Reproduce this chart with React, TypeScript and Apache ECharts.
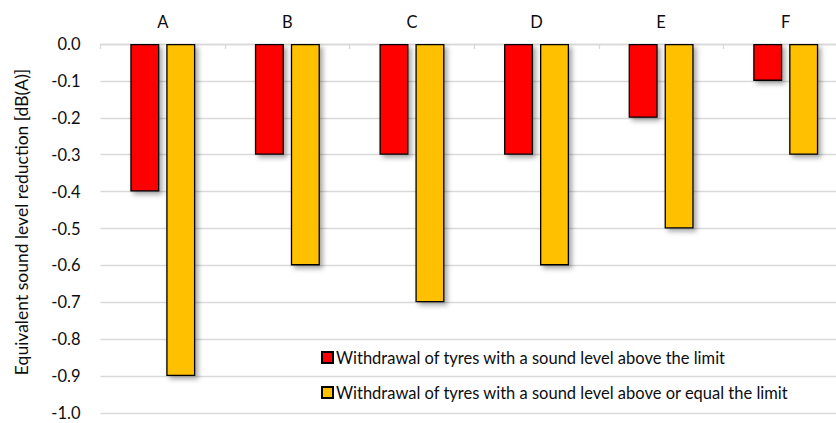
import React, { useEffect, useRef } from "react";
import * as echarts from "echarts";

const categories = ["A", "B", "C", "D", "E", "F"];
const seriesNames = [
  "Withdrawal of tyres with a sound level above the limit",
  "Withdrawal of tyres with a sound level above or equal the limit",
];
const aboveLimit = [-0.4, -0.3, -0.3, -0.3, -0.2, -0.1];
const aboveOrEqual = [-0.9, -0.6, -0.7, -0.6, -0.5, -0.3];
const yAxisName = "Equivalent sound level reduction [dB(A)]";

const FONT = "Lato, 'Noto Sans', sans-serif";
const TEXT = "#0d0d0d";

export default function App() {
  const ref = useRef<HTMLDivElement>(null);
  useEffect(() => {
    document.body.style.margin = "0";
    document.body.style.overflow = "hidden";
    if (!ref.current) return;
    const chart = echarts.init(ref.current, undefined, { renderer: "svg" });
    const barStyle = (color: string) => ({
      color,
      borderColor: "#000",
      borderWidth: 1.3,
      shadowBlur: 5,
      shadowOffsetX: 3,
      shadowOffsetY: 3,
      shadowColor: "rgba(0,0,0,0.35)",
    });
    chart.setOption({
      animation: false,
      textStyle: { fontFamily: FONT },
      grid: { left: 100.5, top: 44, right: 0, bottom: 10, containLabel: false },
      graphic: [
        {
          type: "text",
          x: 21,
          y: 222,
          rotation: Math.PI / 2,
          style: {
            text: yAxisName,
            fontSize: 17.5,
            fontFamily: FONT,
            fill: TEXT,
            align: "center",
            verticalAlign: "middle",
          },
        },
      ],
      legend: {
        orient: "vertical",
        left: 316,
        top: 344,
        itemWidth: 11,
        itemHeight: 11,
        itemGap: 18,
        icon: "rect",
        textStyle: { fontSize: 16.5, color: TEXT, fontFamily: FONT, padding: [0, 0, 0, -2] },
        data: seriesNames,
      },
      xAxis: {
        type: "category",
        position: "top",
        data: categories,
        axisLine: { show: true, lineStyle: { color: "#d9d9d9", width: 1.3 } },
        axisTick: { show: true, inside: true, length: 5, lineStyle: { color: "#d9d9d9", width: 1.3 } },
        axisLabel: { fontSize: 16.5, color: TEXT, margin: 14 },
      },
      yAxis: {
        type: "value",
        min: -1,
        max: 0,
        interval: 0.1,
        axisLine: { show: false },
        axisTick: { show: false },
        axisLabel: {
          fontSize: 16.5,
          color: TEXT,
          margin: 20,
          formatter: (v: number) => v.toFixed(1),
        },
        splitLine: { lineStyle: { color: "#d9d9d9", width: 1.3 } },
      },
      series: [
        {
          name: seriesNames[0],
          type: "bar",
          data: aboveLimit,
          barWidth: 29,
          barGap: "24%",
          itemStyle: barStyle("#ff0000"),
        },
        {
          name: seriesNames[1],
          type: "bar",
          data: aboveOrEqual,
          barWidth: 29,
          barGap: "24%",
          itemStyle: barStyle("#ffc000"),
        },
      ],
    });
    return () => chart.dispose();
  }, []);
  return (
    <div
      ref={ref}
      style={{ position: "fixed", left: 0, top: 0, width: 848, height: 423, background: "#fff" }}
    />
  );
}
